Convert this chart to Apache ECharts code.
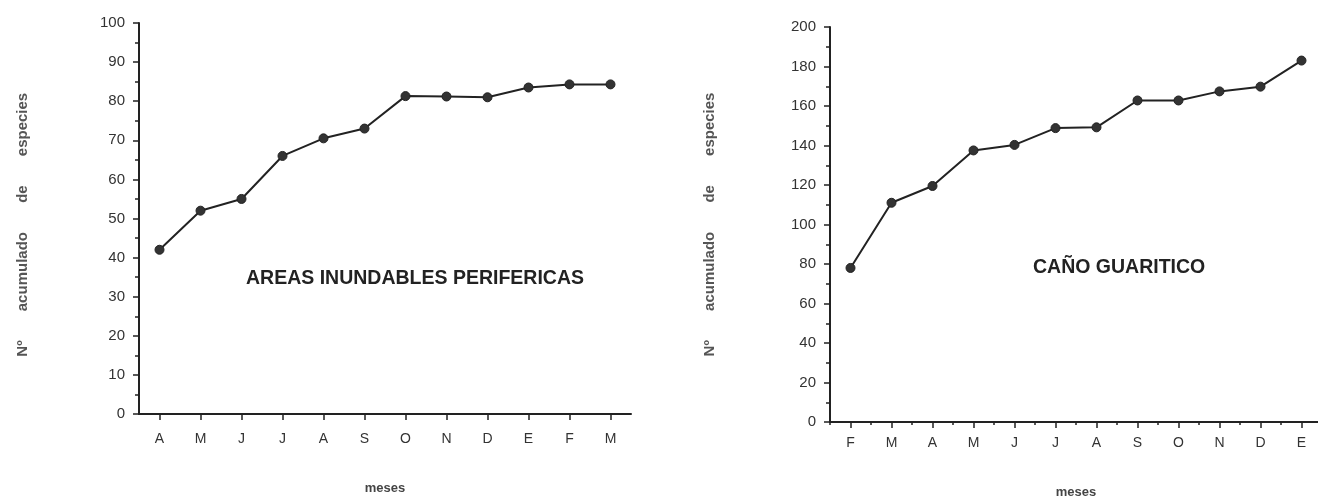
<!DOCTYPE html>
<html>
<head>
<meta charset="utf-8">
<script src="https://cdn.jsdelivr.net/npm/echarts@6/dist/echarts.min.js"></script>
<style>
  html, body { margin: 0; padding: 0; background: #fff; }
  #main { width: 1318px; height: 497px; }
</style>
</head>
<body>
<div id="main"></div>
<script>
// datos
var mesesAreas = ['A', 'M', 'J', 'J', 'A', 'S', 'O', 'N', 'D', 'E', 'F', 'M'];
var especiesAreas = [42, 52, 55, 66, 70.5, 73, 81.3, 81.2, 81, 83.5, 84.3, 84.3];

var mesesCano = ['F', 'M', 'A', 'M', 'J', 'J', 'A', 'S', 'O', 'N', 'D', 'E'];
var especiesCano = [78, 111, 119.5, 137.5, 140.3, 148.8, 149.2, 162.8, 162.8, 167.4, 169.8, 183];

var FONT = "'Liberation Sans', Arial, Helvetica, sans-serif";
var INK = '#222';
var SP = '\u0020\u0020\u0020\u0020\u0020\u0020\u0020';
var tituloY = 'N\u00ba' + SP + 'acumulado' + SP + 'de' + SP + 'especies';

function ejeY(idx, max, interval, nameGap, name) {
    return {
        type: 'value', gridIndex: idx, min: 0, max: max, interval: interval,
        name: name, nameLocation: 'middle', nameGap: nameGap,
        nameTextStyle: { fontFamily: FONT, fontWeight: 'bold', fontSize: 15, color: '#555' },
        axisLine: { show: true, lineStyle: { color: INK, width: 2 } },
        axisTick: { show: true, length: 6, lineStyle: { color: INK, width: 1.5 } },
        minorTick: { show: true, splitNumber: 2, length: 4, lineStyle: { color: INK, width: 1.5 } },
        splitLine: { show: false },
        axisLabel: { margin: 14, fontFamily: FONT, fontSize: 15, color: '#333' }
    };
}

function ejeX(idx, cats, nameGap, margin) {
    return {
        type: 'category', gridIndex: idx, data: cats, boundaryGap: true,
        name: 'meses', nameLocation: 'middle', nameGap: nameGap,
        nameTextStyle: { fontFamily: FONT, fontWeight: 'bold', fontSize: 13, color: '#444' },
        axisLine: { show: true, lineStyle: { color: INK, width: 2 } },
        axisTick: { show: true, alignWithLabel: true, length: 6, lineStyle: { color: INK, width: 1.5 } },
        axisLabel: { margin: margin, fontFamily: FONT, fontSize: 14, color: '#333' },
        splitLine: { show: false }
    };
}

function serie(idx, datos) {
    return {
        type: 'line', xAxisIndex: idx, yAxisIndex: idx, data: datos,
        symbol: 'circle', symbolSize: 9, silent: true,
        lineStyle: { color: INK, width: 2 },
        itemStyle: { color: '#333', borderColor: INK, borderWidth: 1 }
    };
}

var chart = echarts.init(document.getElementById('main'));

// eje secundario solo para las marcas menores entre meses (grafico derecho)
var ejeMenor = {
    type: 'category', gridIndex: 1, data: mesesCano, boundaryGap: true, position: 'bottom',
    axisLine: { show: false },
    axisTick: { show: true, alignWithLabel: false, length: 3, lineStyle: { color: INK, width: 1.5 } },
    axisLabel: { show: false }, splitLine: { show: false }
};

chart.setOption({
    backgroundColor: '#fff',
    animation: false,
    grid: [
        { left: 139, top: 23, width: 492, height: 391, containLabel: false, outerBoundsMode: 'none' },
        { left: 830, top: 27, width: 492, height: 395, containLabel: false, outerBoundsMode: 'none' }
    ],
    xAxis: [ejeX(0, mesesAreas, 68, 18), ejeX(1, mesesCano, 64, 14), ejeMenor],
    yAxis: [
        ejeY(0, 100, 10, 109, tituloY + '\u0020\u0020\u0020'),
        ejeY(1, 200, 20, 113, tituloY)
    ],
    series: [serie(0, especiesAreas), serie(1, especiesCano)],
    graphic: [
        { type: 'text', left: 246, top: 269,
          style: { text: 'AREAS INUNDABLES PERIFERICAS', font: 'bold 19.5px ' + FONT, fill: '#222' } },
        { type: 'text', left: 1033, top: 258,
          style: { text: 'CA\u00d1O GUARITICO', font: 'bold 19.5px ' + FONT, fill: '#222' } }
    ]
});
</script>
</body>
</html>
